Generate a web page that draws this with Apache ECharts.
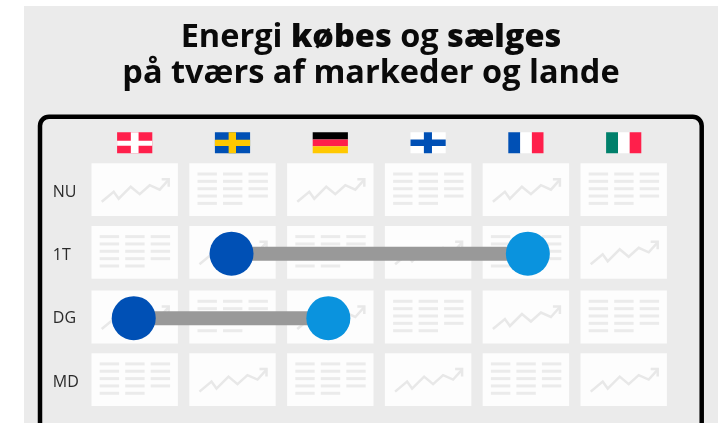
<!DOCTYPE html>
<html>
<head>
<meta charset="utf-8">
<script src="https://cdn.jsdelivr.net/npm/echarts@6/dist/echarts.min.js"></script>
<style>
    html, body { margin: 0; background: #fff; }
    #main { width: 728px; height: 423px; }
</style>
</head>
<body>
<div id="main"></div>
<script>
    const countries = ['DK', 'SE', 'DE', 'FI', 'FR', 'IT'];
    const rows = ['NU', '1T', 'DG', 'MD'];
    const cellsNU = ['line', 'table', 'line', 'table', 'line', 'table'];
    const cells1T = ['table', 'line', 'table', 'line', 'table', 'line'];
    const cellsDG = ['line', 'table', 'line', 'table', 'line', 'table'];
    const cellsMD = ['table', 'line', 'table', 'line', 'table', 'line'];
    const trade1T = [[0.99, 1.01], [4.02, 1.01]];
    const tradeDG = [[-0.01, 2.03], [1.98, 2.03]];

    const GRAY = '#ebebeb';
    const RED = '#ff1f4b';
    const BLUE = '#0050b5';
    const YELLOW = '#ffc800';
    const LIGHT_BLUE = '#0a93de';

    // flag stripes, in units of the flag box (x, y, w, h, colour)
    const flags = {
        DK: [[0, 0, 1, 1, RED], [0.39, 0, 0.22, 1, '#fff'], [0, 0.4, 1, 0.24, '#fff']],
        SE: [[0, 0, 1, 1, BLUE], [0.39, 0, 0.21, 1, YELLOW], [0, 0.36, 1, 0.3, YELLOW]],
        DE: [[0, 0, 1, 0.34, '#000'], [0, 0.34, 1, 0.33, RED], [0, 0.67, 1, 0.33, YELLOW]],
        FI: [[0, 0, 1, 1, '#fff'], [0.38, 0, 0.23, 1, BLUE], [0, 0.35, 1, 0.3, BLUE]],
        FR: [[0, 0, 0.34, 1, BLUE], [0.34, 0, 0.33, 1, '#fff'], [0.67, 0, 0.33, 1, RED]],
        IT: [[0, 0, 0.34, 1, '#00806b'], [0.34, 0, 0.33, 1, '#fff'], [0.67, 0, 0.33, 1, RED]]
    };

    const cellData = [];
    [cellsNU, cells1T, cellsDG, cellsMD].forEach(function (kinds, r) {
        kinds.forEach(function (kind, c) {
            cellData.push([c, rows[r], kind]);
        });
    });

    // rows in the picture are not spaced quite evenly
    const rowShift = { NU: 0, '1T': -0.7, DG: 0.7, MD: 0 };

    function renderCell(params, api) {
        const pt = api.coord([api.value(0), api.value(1)]);
        const kind = cellData[params.dataIndex][2];
        const children = [{
            type: 'rect',
            shape: { x: -43.2, y: -26.4, width: 86.4, height: 52.8 },
            style: { fill: '#fdfdfd' }
        }];
        if (kind === 'line') {
            children.push({
                type: 'polyline',
                shape: { points: [[-33, 12], [-21, 2], [-16, 9], [-4, -3], [5, 4.5], [15, -4.5], [25, 0], [34, -10]] },
                style: { fill: null, stroke: '#e8e8e8', lineWidth: 2.5 }
            }, {
                type: 'polyline',
                shape: { points: [[27, -10.5], [34, -10.5], [34, -3]] },
                style: { fill: null, stroke: '#e8e8e8', lineWidth: 2.5 }
            });
        } else {
            [-35, -9.5, 16].forEach(function (bx, col) {
                const n = col === 2 ? 4 : 5;
                for (let i = 0; i < n; i++) {
                    children.push({
                        type: 'rect',
                        shape: { x: bx, y: -17.2 + i * 7.35, width: 19.4, height: 3 },
                        style: { fill: GRAY }
                    });
                }
            });
        }
        return { type: 'group', x: pt[0], y: pt[1] + rowShift[cellData[params.dataIndex][1]], children: children };
    }

    function renderFlag(params, api) {
        const x = api.coord([api.value(0), 'NU'])[0] - 17.6;
        const y = params.coordSys.y - 25.8;
        const w = 35.2, h = 21;
        return {
            type: 'group',
            x: x,
            y: y,
            children: flags[countries[params.dataIndex]].map(function (s) {
                return {
                    type: 'rect',
                    shape: { x: s[0] * w, y: s[1] * h, width: s[2] * w, height: s[3] * h },
                    style: { fill: s[4] }
                };
            })
        };
    }

    function tradeSeries(data) {
        return {
            type: 'line',
            yAxisIndex: 1,
            z: 5,
            data: [
                { value: data[0], itemStyle: { color: BLUE } },
                { value: data[1], itemStyle: { color: LIGHT_BLUE } }
            ],
            symbol: 'circle',
            symbolSize: 44,
            lineStyle: { color: '#999', width: 14, cap: 'butt' },
            animation: false
        };
    }

    const chart = echarts.init(document.getElementById('main'));
    chart.setOption({
        animation: false,
        title: {
            left: 366,
            top: 14.5,
            textAlign: 'center',
            text: '{a|Energi }{b|købes}{a| og }{b|sælges}\n{a|på tværs af markeder og lande}',
            textStyle: {
                rich: {
                    a: { fontFamily: 'Open Sans', fontSize: 32.5, fontWeight: 700, color: '#0a0a0a', lineHeight: 36 },
                    b: { fontFamily: 'Open Sans', fontSize: 32.5, fontWeight: 800, color: '#0a0a0a', lineHeight: 36 }
                }
            }
        },
        graphic: [
            {
                type: 'rect', z: -10, silent: true,
                shape: { x: 24, y: 6, width: 694, height: 420 },
                style: { fill: GRAY }
            },
            {
                type: 'rect', z: -9, silent: true,
                shape: { x: 40, y: 116.7, width: 661.7, height: 400, r: 9 },
                style: { fill: null, stroke: '#000', lineWidth: 4.5 }
            }
        ],
        grid: { left: 85.8, top: 158.05, width: 586.8, height: 253.2 },
        xAxis: { type: 'value', min: -0.5, max: 5.5, show: false },
        yAxis: [
            {
                type: 'category',
                inverse: true,
                data: rows,
                axisLine: { show: false },
                axisTick: { show: false },
                axisLabel: {
                    align: 'left',
                    verticalAlign: 'top',
                    lineHeight: 5,
                    margin: 33,
                    fontFamily: 'Open Sans',
                    fontSize: 16,
                    color: '#2b2b2b'
                }
            },
            // same rows as a plain number scale, for the trade lines
            { type: 'value', inverse: true, min: -0.5, max: 3.5, show: false }
        ],
        series: [
            {
                type: 'custom',
                renderItem: renderCell,
                encode: { x: 0, y: 1 },
                data: cellData.map(function (d) { return [d[0], d[1]]; }),
                z: 2
            },
            {
                type: 'custom',
                renderItem: renderFlag,
                encode: { x: 0 },
                data: countries.map(function (c, i) { return [i, 'NU']; }),
                z: 2
            },
            tradeSeries(trade1T),
            tradeSeries(tradeDG)
        ]
    });
</script>
</body>
</html>
